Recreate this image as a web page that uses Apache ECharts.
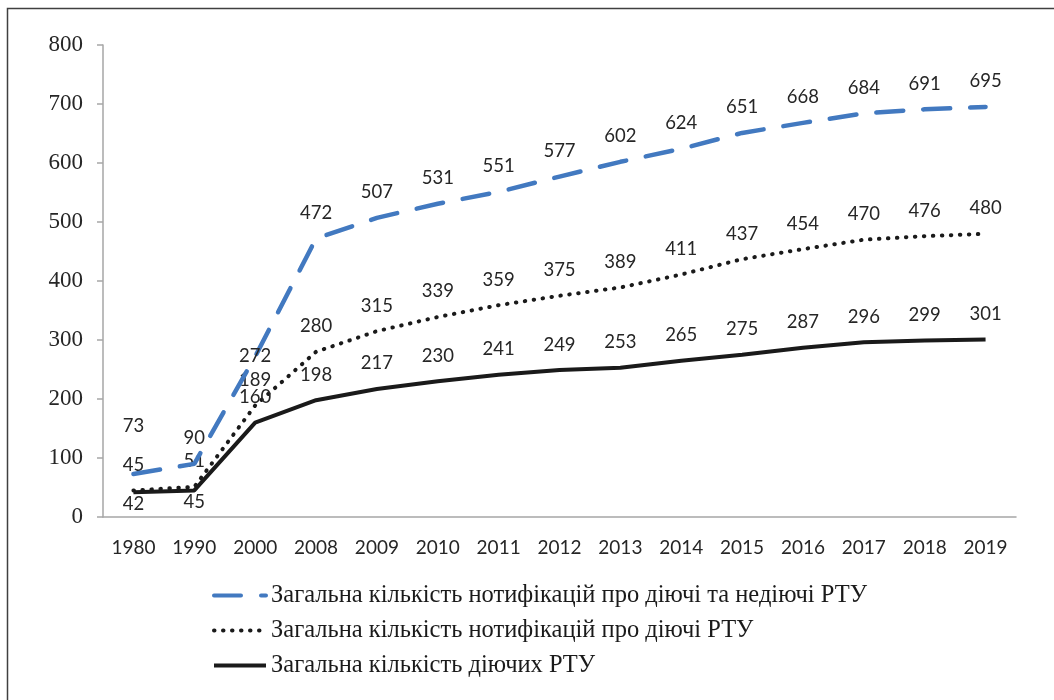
<!DOCTYPE html>
<html>
<head>
<meta charset="utf-8">
<script src="https://cdn.jsdelivr.net/npm/echarts@6/dist/echarts.min.js"></script>
<style>
  html, body { margin: 0; padding: 0; background: #fff; }
  #chart { width: 1054px; height: 700px; }
</style>
</head>
<body>
<div id="chart"></div>
<script>
const years = ["1980", "1990", "2000", "2008", "2009", "2010", "2011", "2012", "2013", "2014", "2015", "2016", "2017", "2018", "2019"];

const allNotifications = [73, 90, 272, 472, 507, 531, 551, 577, 602, 624, 651, 668, 684, 691, 695];
const activeNotifications = [45, 51, 189, 280, 315, 339, 359, 375, 389, 411, 437, 454, 470, 476, 480];
const activeRta = [42, 45, 160, 198, 217, 230, 241, 249, 253, 265, 275, 287, 296, 299, 301];

const seriesNames = [
  "Загальна кількість нотифікацій про діючі та недіючі РТУ",
  "Загальна кількість нотифікацій про діючі РТУ",
  "Загальна кількість діючих РТУ"
];

// a few labels in the original sit off the usual spot
const labelTweaks = {
  0: { 0: { distance: 38 }, 2: { position: "inside" } },
  2: { 0: { position: "bottom", distance: 2 }, 1: { position: "bottom", distance: 2 } }
};

const sans = "Lato";
const serif = "'Liberation Serif', 'Times New Roman', serif";

function withLabels(values, seriesIdx) {
  const tweaks = labelTweaks[seriesIdx] || {};
  return values.map((v, i) => tweaks[i] ? { value: v, label: tweaks[i] } : v);
}

const chart = echarts.init(document.getElementById("chart"));

const lineLabel = {
  show: true,
  position: "top",
  distance: 16,
  color: "#262626",
  fontFamily: sans,
  fontSize: 18.5
};

chart.setOption({
  animation: false,
  graphic: [{
    type: "rect",
    shape: { x: 7.5, y: 8.5, width: 1200, height: 900 },
    style: { fill: "none", stroke: "#404040", lineWidth: 1.5 },
    silent: true
  }],
  grid: { left: 103, right: 38, top: 45, bottom: 183 },
  legend: {
    orient: "vertical",
    left: 207,
    top: 578,
    itemWidth: 52,
    itemHeight: 20,
    itemGap: 10,
    itemStyle: { opacity: 0 },
    lineStyle: { width: 4 },
    textStyle: { fontFamily: serif, fontSize: 24.5, color: "#1a1a1a", lineHeight: 24 },
    data: seriesNames
  },
  xAxis: {
    type: "category",
    data: years,
    boundaryGap: true,
    axisLine: { lineStyle: { color: "#a6a6a6", width: 1.5 } },
    axisTick: { length: 6, lineStyle: { color: "#a6a6a6", width: 1.5 } },
    axisLabel: { interval: 0, margin: 21, color: "#262626", fontFamily: sans, fontSize: 19 }
  },
  yAxis: {
    type: "value",
    min: 0,
    max: 800,
    interval: 100,
    splitLine: { show: false },
    axisLine: { show: true, lineStyle: { color: "#a6a6a6", width: 1.5 } },
    axisTick: { show: true, length: 6, lineStyle: { color: "#a6a6a6", width: 1.5 } },
    axisLabel: { margin: 20, color: "#262626", fontFamily: serif, fontSize: 23 }
  },
  series: [
    {
      name: seriesNames[0],
      type: "line",
      symbol: "circle",
      symbolSize: 0,
      data: withLabels(allNotifications, 0),
      lineStyle: { color: "#4279c0", width: 4.5, type: [27, 20], cap: "round" },
      itemStyle: { color: "#4279c0" },
      label: lineLabel,
      z: 3
    },
    {
      name: seriesNames[1],
      type: "line",
      symbol: "circle",
      symbolSize: 0,
      data: withLabels(activeNotifications, 1),
      lineStyle: { color: "#1a1a1a", width: 4, type: [0.5, 8.5], cap: "round" },
      itemStyle: { color: "#1a1a1a" },
      label: lineLabel,
      z: 2
    },
    {
      name: seriesNames[2],
      type: "line",
      symbol: "circle",
      symbolSize: 0,
      data: withLabels(activeRta, 2),
      lineStyle: { color: "#1a1a1a", width: 4 },
      itemStyle: { color: "#1a1a1a" },
      label: lineLabel,
      z: 2
    }
  ]
});
</script>
</body>
</html>
